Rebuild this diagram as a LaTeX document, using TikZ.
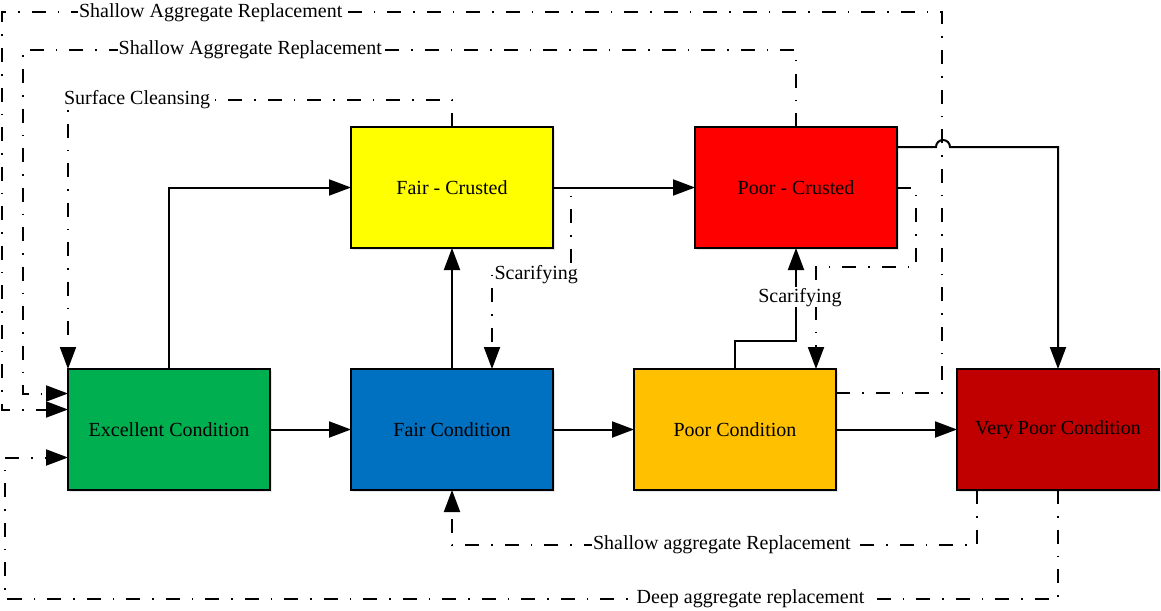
\documentclass[tikz,border=0pt]{standalone}
\usepackage{fontspec}
\setmainfont{Liberation Serif}
\usepackage{xcolor}
\definecolor{colorExcellent}{HTML}{00B050}
\definecolor{colorFair}{HTML}{0070C0}
\definecolor{colorPoor}{HTML}{FFC000}
\definecolor{colorVeryPoor}{HTML}{C00000}
\definecolor{colorFairCrusted}{HTML}{FFFF00}
\definecolor{colorPoorCrusted}{HTML}{FF0000}
\usepackage{tikz}
\usetikzlibrary{arrows.meta, positioning, shadows}
\tikzset{cond/.style={draw, line width=2pt, minimum width=202pt, minimum height=121pt, inner sep=2pt, outer sep=0pt, font=\fontsize{20}{24}\selectfont, drop shadow={shadow xshift=2pt, shadow yshift=-2pt, opacity=.2}}}
\tikzset{treat/.style={line width=2pt, dash pattern=on 14pt off 12pt on 1.5pt off 12pt}}
\tikzset{treatlabel/.style={fill=white, inner sep=1pt, font=\fontsize{20}{24}\selectfont}}

\begin{document}
\begin{tikzpicture}[x=1pt, y=-1pt, >={Triangle[length=22pt,width=16pt]}, line width=2pt, node distance=81pt]
\useasboundingbox (0,0) rectangle (1161,610);
\node[cond, fill=colorExcellent] (exc) at (169,429.5) {Excellent Condition};
\node[cond, fill=colorFair, right=of exc] (fair) {Fair Condition};
\node[cond, fill=colorPoor, right=of fair] (poor) {Poor Condition};
\node[cond, fill=colorVeryPoor, right=121pt of poor] (vpoor) {Very Poor Condition};
\node[cond, fill=colorFairCrusted, above=121pt of fair] (fcr) {Fair - Crusted};
\node[cond, fill=colorPoorCrusted, right=142pt of fcr] (pcr) {Poor - Crusted};
% deterioration
\draw[->] (exc.east) -- (fair.west);
\draw[->] (fair.east) -- (poor.west);
\draw[->] (poor.east) -- (vpoor.west);
\draw[->] (exc.north) |- (fcr.west);
\draw[->] (fair.north) -- (fcr.south);
\draw[->] (fcr.east) -- (pcr.west);
\draw[->] ([yshift=-20pt]pcr.north east) -- ++(39pt,0pt) arc[start angle=180, end angle=0, radius=7pt] -| (vpoor.north);
\draw[->] (poor.north) -- ++(0pt,28pt) -| (pcr.south);
% treatments
\coordinate (excA) at ([yshift=36pt]exc.west);
\coordinate (excB) at ([yshift=20pt]exc.west);
\coordinate (excC) at ([yshift=-28pt]exc.west);
\coordinate (poorA) at ([yshift=37pt]poor.east);
\draw[treat, ->] (fcr.north) -- ++(0pt,27pt) -| node[treatlabel, pos=.41] (lblSurface) {Surface Cleansing} (exc.north west);
\draw[treat, ->] (pcr.north) -- ++(0pt,77pt) -| node[treatlabel, pos=.353] (lblShallowB) {Shallow Aggregate Replacement} ([xshift=-45pt]excA) -- (excA);
\draw[treat, ->] (poorA) -- ++(106pt,0pt) -- ++(0pt,380pt) -| node[treatlabel, pos=.389] (lblShallowA) {Shallow Aggregate Replacement} ([xshift=-66pt]excB) -- (excB);
\draw[treat, ->] (fcr.east) -- ++(18pt,0pt) -- ++(0pt,-87pt) -| node[treatlabel, pos=.22] (lblScarA) {Scarifying} ([xshift=40pt]fair.north);
\draw[treat, ->] (pcr.east) -- ++(19pt,0pt) -- ++(0pt,-79pt) -| node[treatlabel, pos=.65, xshift=-16pt] (lblScarB) {Scarifying} ([xshift=81pt]poor.north);
\draw[treat, ->] ([xshift=-81pt]vpoor.south) -- ++(0pt,-55pt) -| node[treatlabel, pos=.243] (lblShallowC) {Shallow aggregate Replacement} (fair.south);
\draw[treat, ->] (vpoor.south) -- ++(0pt,-109pt) -| node[treatlabel, pos=.146] (lblDeep) {Deep aggregate replacement} ([xshift=-63pt]excC) -- (excC);
\end{tikzpicture}
\end{document}
